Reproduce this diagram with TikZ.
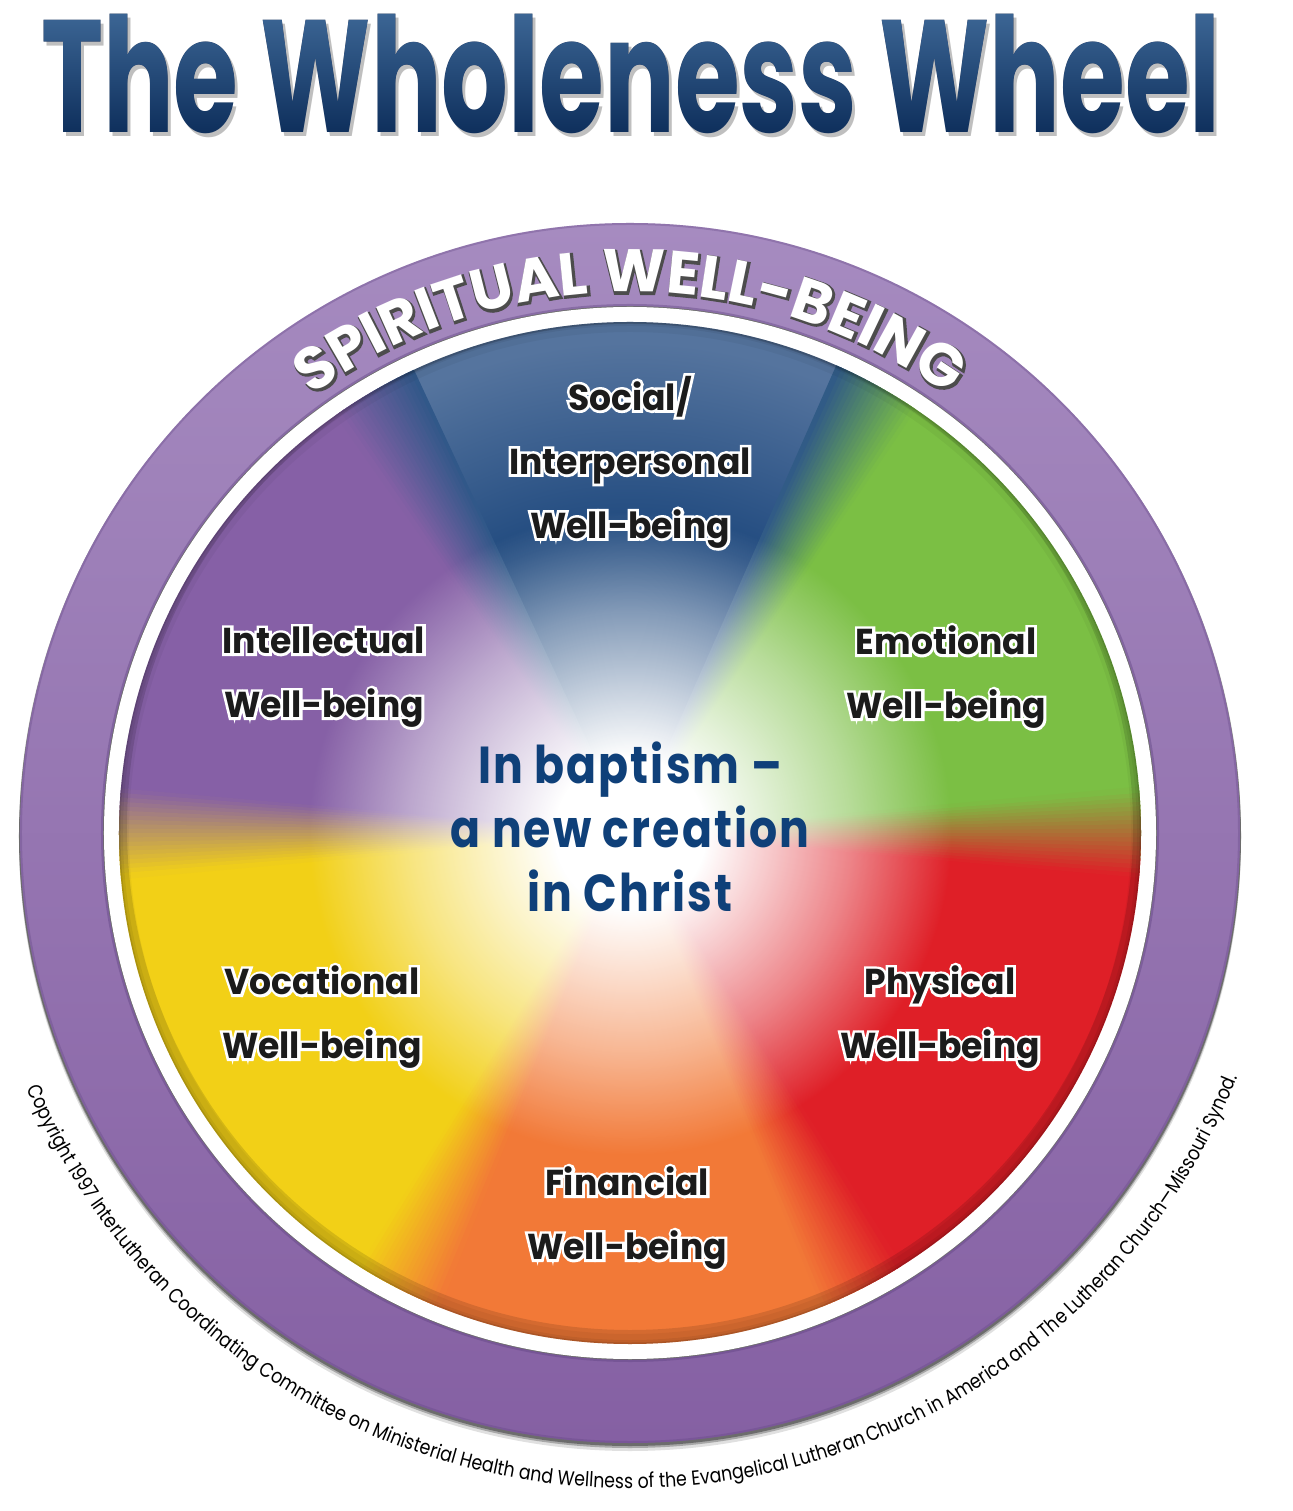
\documentclass[tikz,border=0pt]{standalone}
\usepackage{fontspec}
\usetikzlibrary{decorations.text,fadings,positioning}

\newfontfamily\titlefont{Poppins}[FakeStretch=0.656]
\newfontfamily\labelfont{Poppins}[FakeStretch=0.96]
\newfontfamily\halofont{Poppins}[FakeStretch=0.96,FakeBold=15]
\newfontfamily\centerfont{Poppins}[FakeStretch=0.85,LetterSpace=4]
\newfontfamily\ringfont{Poppins}
\newfontfamily\ringedgefont{Poppins}[FakeBold=5]
\newfontfamily\copyfont{Poppins}[FakeStretch=0.85]

\definecolor{titletop}{HTML}{3D6796}
\definecolor{titlebot}{HTML}{0E2F5C}
\definecolor{ringtop}{HTML}{A68BC0}
\definecolor{ringmid}{HTML}{AD8BCB}
\definecolor{ringbot}{HTML}{8560A3}
\definecolor{ringedge}{HTML}{5E4280}
\definecolor{emo}{HTML}{7BBF44}
\definecolor{socdark}{HTML}{1F497E}
\definecolor{soclight}{HTML}{55749E}
\definecolor{soc}{HTML}{2F5888}
\definecolor{intel}{HTML}{8660A6}
\definecolor{voc}{HTML}{F2D017}
\definecolor{fin}{HTML}{F27937}
\definecolor{phys}{HTML}{DF1F27}
\definecolor{baptism}{HTML}{0F4079}
\definecolor{labelink}{HTML}{1B1B1B}

% 25bp of a shading = radius of the path it fills
\pgfdeclareradialshading{socshade}{\pgfpointorigin}{color(0bp)=(socdark); color(14.5bp)=(socdark); color(24bp)=(soclight); color(50bp)=(soclight)}
\pgfdeclareradialshading{glowshade}{\pgfpointorigin}{color(0bp)=(white); color(3.7bp)=(white); color(7bp)=(white!75!black); color(10.8bp)=(white!45!black); color(15.7bp)=(black); color(50bp)=(black)}
\pgfdeclarefading{glow}{\pgfuseshading{glowshade}}

\tikzset{sectorlabel/.style={font=\labelfont\bfseries\fontsize{36}{64}\selectfont,align=center,text=labelink,inner sep=0pt},
		sectorhalo/.style={sectorlabel,font=\halofont\bfseries\fontsize{36}{64}\selectfont,text=white},
		titletext/.style={font=\titlefont\bfseries\fontsize{160}{160}\selectfont,inner sep=0pt,anchor=base},
		spirit/.style 2 args={decorate,decoration={text along path,text align=center,text color=#1,
			text={|#2\bfseries\fontsize{60}{60}\selectfont|SPIRITUAL WELL-BEING}}}}

\begin{document}
\begin{tikzpicture}[x=1pt,y=1pt,
		wedge/.style={draw=none},
		centertext/.style={font=\centerfont\bfseries\fontsize{52}{64}\selectfont,align=center,text=baptism,inner sep=0pt}]
	\useasboundingbox (-630,-678) rectangle (662,833);
	\fill[white] (-630,-678) rectangle (662,833);
	
	% title
	\coordinate (title-pos) at (1,700);
	\node[titletext,text=black!25] (title-shadow) at ([shift={(3,-4)}]title-pos) {The Wholeness Wheel};
	\node[titletext,text=titlebot] (title) at (title-pos) {The Wholeness Wheel};
	\shade[blend mode=lighten,top color=titletop,bottom color=titlebot] (-620,823) rectangle (620,700);
	
	% ring
	\foreach \d/\o in {2/0.35,4/0.25,7/0.12}
		\fill[black,opacity=\o] (0,-\d) circle (611);
	\shade[top color=ringtop,middle color=ringmid,bottom color=ringbot,even odd rule] (0,0) circle (610) (0,0) circle (527);
	\draw[ringedge,opacity=.3,line width=2] (0,0) circle (609);
	\draw[ringedge,opacity=.4,line width=2] (0,0) circle (528);
	\fill[white] (0,0) circle (526);
	
	% wheel
	\begin{scope}
		\clip (0,0) circle (511);
		\foreach \a/\b/\c in {-3/61/emo,120/180/intel,180/243/voc,243/297/fin,297/357/phys}
			\fill[wedge,\c] (0,0) -- (\a:530) arc[start angle=\a,end angle=\b,radius=530] -- cycle;
		\begin{scope}
			\clip (0,0) -- (61:530) arc[start angle=61,end angle=120,radius=530] -- cycle;
			\shade[shading=socshade] (0,0) circle (511);
		\end{scope}
		\foreach \b/\ca/\cb in {0/phys/emo,61/emo/soc,120/soc/intel,180/intel/voc,243/voc/fin,297/fin/phys}
			\foreach \k in {0,...,19} {
				\pgfmathsetmacro\p{97.5-5*\k}
				\pgfmathsetmacro\s{\b-5+0.5*\k}
				\fill[wedge,\ca!\p!\cb] (0,0) -- (\s:530) arc[start angle=\s,delta angle=0.7,radius=530] -- cycle;
			}
		\foreach \w/\o in {20/0.04,8/0.06,3/0.1}
			\draw[black,opacity=\o,line width=\w] (0,0) circle (511);
		\fill[black,opacity=.12,even odd rule] (0,0) circle (511) (0,6) circle (503);
		\fill[white,path fading=glow] (0,0) circle (511);
	\end{scope}
	
	\node[centertext] (baptism) at (0,6) {In baptism –\\a new creation\\in Christ};
	
	\node[sectorhalo] (social-halo) at (0,371) {Social/\\Interpersonal\\Well-being};
	\node[sectorlabel] (social) at (social-halo) {Social/\\Interpersonal\\Well-being};
	\node[sectorhalo] (intellectual-halo) at (-306,156) {Intellectual\\Well-being};
	\node[sectorlabel] (intellectual) at (intellectual-halo) {Intellectual\\Well-being};
	\node[sectorhalo] (emotional-halo) at (316,156) {Emotional\\Well-being};
	\node[sectorlabel] (emotional) at (emotional-halo) {Emotional\\Well-being};
	\node[sectorhalo] (vocational-halo) at (-308,-184) {Vocational\\Well-being};
	\node[sectorlabel] (vocational) at (vocational-halo) {Vocational\\Well-being};
	\node[sectorhalo] (physical-halo) at (310,-184) {Physical\\Well-being};
	\node[sectorlabel] (physical) at (physical-halo) {Physical\\Well-being};
	\node[sectorhalo] (financial-halo) at (-3,-385) {Financial\\Well-being};
	\node[sectorlabel] (financial) at (financial-halo) {Financial\\Well-being};
	
	% lettering on the ring
	\path[spirit={black!70}{\ringedgefont},shift={(1,-1.5)}] (127:541) arc[start angle=127,end angle=53,radius=541];
	\path[spirit={white}{\ringfont}] (127:541) arc[start angle=127,end angle=53,radius=541];
	
	\path[decorate,decoration={text along path,text align=center,
		text={|\copyfont\fontsize{20.4}{21}\selectfont|Copyright 1997 InterLutheran Coordinating Committee on Ministerial Health and Wellness of the Evangelical Lutheran Church in America and The Lutheran Church—Missouri Synod.}}]
		(202:655) arc[start angle=202,end angle=339,radius=655];
\end{tikzpicture}
\end{document}
